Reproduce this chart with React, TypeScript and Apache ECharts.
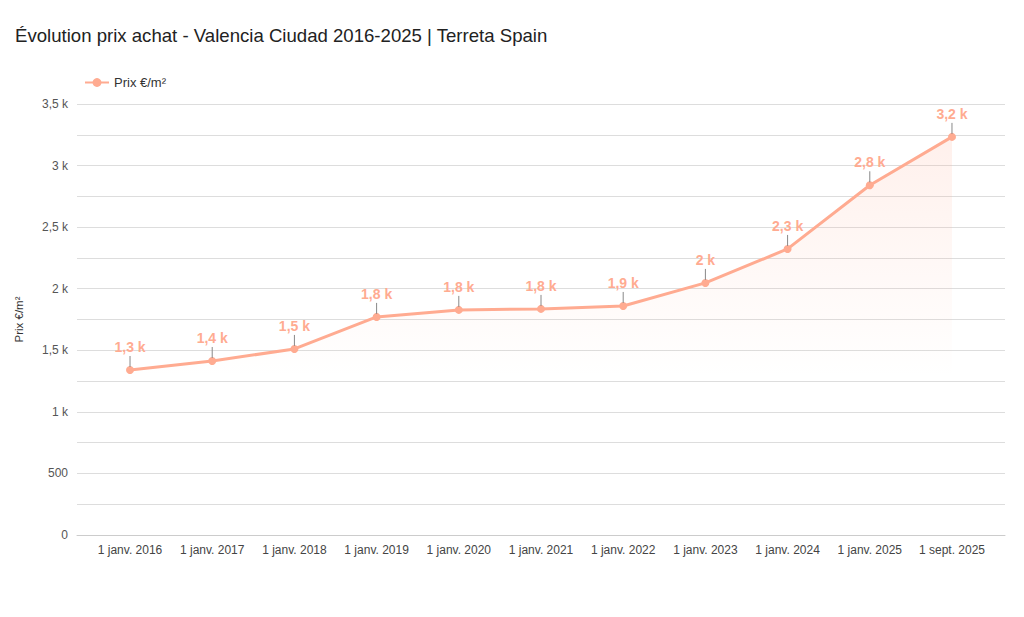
import React, { useEffect, useRef } from "react";
import * as echarts from "echarts";

const categories = [
  "1 janv. 2016",
  "1 janv. 2017",
  "1 janv. 2018",
  "1 janv. 2019",
  "1 janv. 2020",
  "1 janv. 2021",
  "1 janv. 2022",
  "1 janv. 2023",
  "1 janv. 2024",
  "1 janv. 2025",
  "1 sept. 2025",
];
const prices = [1340, 1413, 1511, 1771, 1828, 1836, 1860, 2047, 2323, 2840, 3233];
const seriesName = "Prix €/m²";
const titleText = "Évolution prix achat - Valencia Ciudad 2016-2025 | Terreta Spain";

const COLOR = "#ffab91";
const FONT = "'Liberation Sans', Arial, sans-serif";

function fmtK(v: number): string {
  if (v === 0) return "0";
  if (Math.abs(v) < 1000) return String(v);
  const s = (Math.round(v / 100) / 10).toFixed(1).replace(".", ",").replace(/,0$/, "");
  return s + " k";
}

export default function App() {
  const ref = useRef<HTMLDivElement>(null);
  useEffect(() => {
    if (!ref.current) return;
    const chart = echarts.init(ref.current, undefined, { renderer: "svg" });
    const data = prices.map((v, i) => [i, v]);
    const idx = categories.map((_, i) => i);
    chart.setOption({
      animation: false,
      backgroundColor: "#ffffff",
      textStyle: { fontFamily: FONT },
      title: {
        text: titleText,
        left: 10,
        top: 21,
        textStyle: { fontSize: 18.6, fontWeight: "normal", color: "#222", fontFamily: FONT },
      },
      legend: {
        left: 79,
        top: 71,
        itemWidth: 24,
        itemHeight: 11,
        itemGap: 10,
        textStyle: { fontSize: 13, color: "#333", fontFamily: FONT },
        data: [{ name: seriesName }],
      },
      grid: { left: 77, right: 19, top: 104, bottom: 82, containLabel: false },
      xAxis: {
        type: "value",
        min: -0.645,
        max: categories.length - 1 + 0.645,
        splitLine: { show: false },
        axisLine: { show: true, onZero: false, lineStyle: { color: "#cccccc" } },
        axisTick: { show: false, customValues: idx },
        axisLabel: {
          customValues: idx,
          formatter: (v: number) => categories[Math.round(v)] ?? "",
          color: "#444",
          fontSize: 12,
          margin: 9,
          fontFamily: FONT,
        },
      },
      yAxis: {
        type: "value",
        min: 0,
        max: 3500,
        interval: 500,
        name: seriesName,
        nameLocation: "middle",
        nameGap: 52,
        nameTextStyle: { color: "#333", fontSize: 11.5, fontFamily: FONT },
        axisLine: { show: false },
        axisTick: { show: false },
        axisLabel: { formatter: fmtK, color: "#555", fontSize: 12, margin: 9, fontFamily: FONT },
        splitLine: { show: true, lineStyle: { color: "#dddddd", width: 1 } },
        minorTick: { show: false, splitNumber: 2 },
        minorSplitLine: { show: true, lineStyle: { color: "#dddddd", width: 1 } },
      },
      series: [
        {
          name: seriesName,
          type: "line",
          data,
          symbol: "circle",
          symbolSize: 8,
          z: 3,
          lineStyle: { color: COLOR, width: 3 },
          itemStyle: { color: COLOR },
          areaStyle: {
            color: new echarts.graphic.LinearGradient(0, 0, 0, 1, [
              { offset: 0, color: "rgba(255,171,145,0.25)" },
              { offset: 0.6, color: "rgba(255,171,145,0)" },
              { offset: 1, color: "rgba(255,171,145,0)" },
            ]),
          },
          label: {
            show: true,
            position: "top",
            distance: 12,
            formatter: (p: any) => fmtK(p.value[1]),
            color: COLOR,
            fontWeight: "bold",
            fontSize: 14,
            fontFamily: FONT,
          },
        },
        {
          name: "ticks",
          type: "custom",
          data,
          z: 4,
          silent: true,
          renderItem: (params: any, api: any) => {
            const p = api.coord([api.value(0), api.value(1)]);
            return {
              type: "line",
              shape: { x1: p[0], y1: p[1] - 3, x2: p[0], y2: p[1] - 14 },
              style: { stroke: "#888", lineWidth: 1 },
            };
          },
        },
      ],
    });
    return () => chart.dispose();
  }, []);
  return (
    <div
      ref={ref}
      style={{ position: "absolute", left: 0, top: 0, width: 1024, height: 617 }}
    />
  );
}
